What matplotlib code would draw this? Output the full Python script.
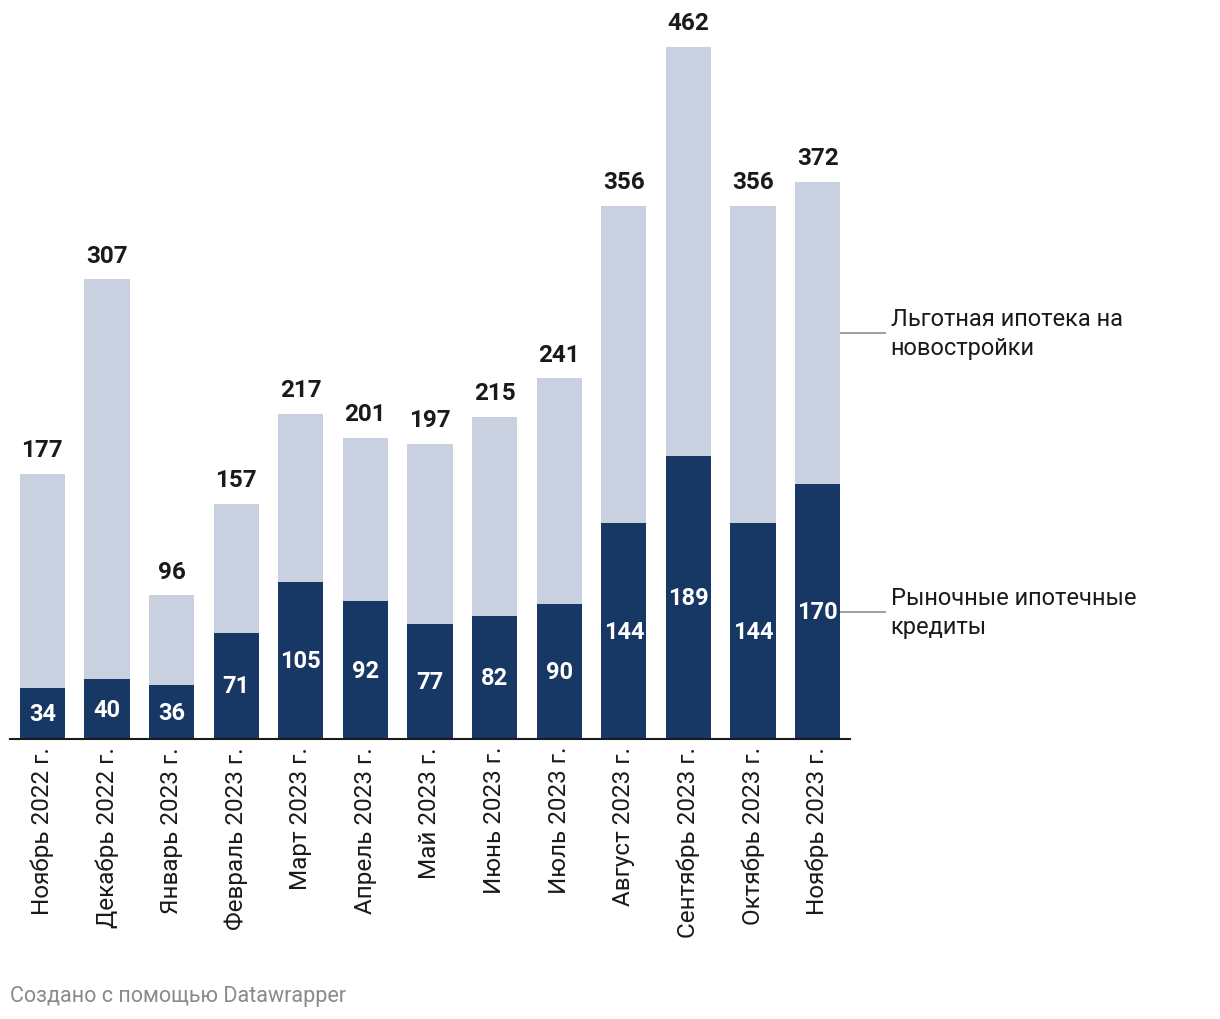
import numpy as np
import matplotlib.pyplot as plt

plt.rcParams['font.family'] = ['Roboto', 'DejaVu Sans']

months = ['Ноябрь 2022 г.', 'Декабрь 2022 г.', 'Январь 2023 г.', 'Февраль 2023 г.',
          'Март 2023 г.', 'Апрель 2023 г.', 'Май 2023 г.', 'Июнь 2023 г.',
          'Июль 2023 г.', 'Август 2023 г.', 'Сентябрь 2023 г.', 'Октябрь 2023 г.',
          'Ноябрь 2023 г.']
market = [34, 40, 36, 71, 105, 92, 77, 82, 90, 144, 189, 144, 170]
total = [177, 307, 96, 157, 217, 201, 197, 215, 241, 356, 462, 356, 372]
preferential = [t - m for t, m in zip(total, market)]

label_pref = 'Льготная ипотека на\nновостройки'
label_market = 'Рыночные ипотечные\nкредиты'

dark = '#173764'
light = '#c9d1e0'

W, H = 1220, 1020
fig = plt.figure(figsize=(W / 100, H / 100), dpi=100)
# axes placed in pixel terms: x 10..850, y 48..740
ax = fig.add_axes([10 / W, 1 - 740 / H, 840 / W, 692 / H])

x = np.arange(len(months))
ax.bar(x, market, width=0.7, color=dark)
ax.bar(x, preferential, width=0.7, bottom=market, color=light)

for i in range(len(months)):
    ax.text(x[i], market[i] / 2, str(market[i]), ha='center', va='center',
            color='white', fontsize=17, fontweight='bold')
    ax.annotate(str(total[i]), (x[i], total[i]), xytext=(0, 9),
                textcoords='offset points', ha='center', va='bottom',
                color='#1a1a1a', fontsize=17.5, fontweight='bold',
                annotation_clip=False)

ax.set_xlim(-0.5, len(months) - 0.5)
ax.set_ylim(0, 462)
for s in ['top', 'right', 'left']:
    ax.spines[s].set_visible(False)
ax.spines['bottom'].set_color('#1a1a1a')
ax.spines['bottom'].set_linewidth(1.5)
ax.set_yticks([])
ax.set_xticks(x)
ax.set_xticklabels(months, rotation=90, fontsize=17.5, color='#1a1a1a')
ax.tick_params(axis='x', length=0, pad=5)

# labels for the series on the right, tied to the last bar
last = len(months) - 1
ys = [market[last] / 2, market[last] + preferential[last] / 2]
texts = [label_market, label_pref]
for yv, t in zip(ys, texts):
    ax.plot([last + 0.35, last + 1.05], [yv, yv], color='#999999', lw=1.3,
            clip_on=False, solid_capstyle='butt')
    ax.text(last + 1.13, yv, t, ha='left', va='center', fontsize=17,
            color='#1a1a1a', linespacing=1.35, clip_on=False)

fig.text(10 / W, 1 - 997 / H, 'Создано с помощью Datawrapper', ha='left',
         va='center', fontsize=15.5, color='#8a8a8a')

fig.savefig('out.png', dpi=100)
